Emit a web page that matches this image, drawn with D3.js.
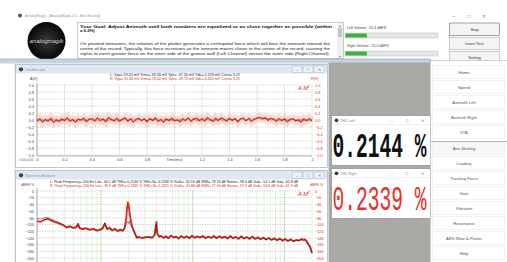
<!DOCTYPE html>
<html>
<head>
<meta charset="utf-8">
<script src="https://cdn.jsdelivr.net/npm/d3@7"></script>
<style>
body{margin:0;background:#fff;}
svg{display:block;font-family:"Liberation Sans",Arial,sans-serif;}
</style>
</head>
<body>
<script>
// ---- data ----
const titleText = "AnalogMagik  -  [AnalogMagik 2.0 - Anti-Skating]";
const goalLines = ["Your Goal:  Adjust Azimuth until both numbers are equalized or as close together as possible (within", "\u00b1 0.2%)"];
const infoLines = [
  "On pivoted tonearms, the rotation of the platter generates a centripetal force which will bias the tonearm toward the",
  "centre of the record.   Typically, this force increases as the tonearm moves closer to the center of the record, causing the",
  "stylus to exert greater force on the inner side of the groove wall (Left Channel) versus the outer side (Right Channel)."
];
const volumeLabels = ["Left Volume:", "Right Volume:"];
const volumeValues = ["-55.3 dBFS", "-55.0 dBFS"];
const volumeLevels = [0.23, 0.23];
const ctrlButtons = ["Stop", "Invert Test", "Setting"];
const navItems = ["Home","Speed","Azimuth Left","Azimuth Right","VTA","Anti-Skating","Loading","Tracking Force","Gain","Vibration","Resonance","AES Wow & Flutter","Help"];
const thdTitles = ["THD Left", "THD Right"];
const thdValues = ["0.2144", "0.2339"];

const scopeYTicks = [1,0.8,0.6,0.4,0.2,0,-0.2,-0.4,-0.6,-0.8,-1];
const scopeXTicks = [0,0.2,0.4,0.6,0.8,1,1.2,1.4,1.6,1.8,2];
const scopeStep = 0.02; // ms per sample
const scopeHeadL = "L: Vpp=  59.20 mV    Vrms=  18.34 mV    Vpk=  -47.16 mV        Vdc=  0.218 mV    Crest=  3.22";
const scopeHeadR = "R: Vpp=  61.84 mV    Vrms=  19.02 mV    Vpk=  -49.70 mV        Vdc=  0.305 mV    Crest=  3.25";
const scopeL = [
  0.01,-0.03,0.02,-0.05,0.03,-0.02,0.04,-0.04,0.01,-0.03,
  0.03,-0.01,0.04,-0.03,0.02,-0.05,0.03,-0.02,0.01,0.04,
  -0.02,0.03,-0.04,0.05,-0.01,0.02,-0.03,0.04,0.01,-0.04,
  0.03,-0.02,0.05,-0.03,0.01,0.04,-0.04,0.02,-0.01,0.03,
  -0.03,0.05,-0.02,0.01,0.04,-0.04,0.03,-0.01,0.02,-0.03,
  0.04,-0.02,0.03,-0.04,0.02,0.05,-0.01,0.03,-0.03,0.02,
  -0.04,0.04,0.01,-0.02,0.05,-0.03,0.03,0.01,-0.04,0.04,
  0.02,-0.02,0.05,-0.03,0.04,0.01,-0.02,0.06,0.02,0.04,
  0.07,0.03,0.06,0.02,0.05,-0.01,0.04,0.02,-0.03,0.03,
  -0.01,0.04,-0.03,0.02,0.01,-0.04,0.03,-0.02,0.01,-0.03,0.02
];
const scopeR = [
  -0.03,0.04,-0.06,0.02,-0.04,0.05,-0.07,0.01,-0.05,0.03,
  -0.02,0.06,-0.04,0.02,-0.06,0.03,-0.01,0.05,-0.05,0.02,
  0.04,-0.03,0.06,-0.02,0.03,-0.05,0.07,0.01,-0.03,0.05,
  -0.04,0.02,0.06,-0.03,0.04,-0.06,0.02,0.05,-0.02,0.03,
  -0.05,0.04,-0.01,0.06,-0.04,0.02,-0.06,0.03,-0.02,0.05,
  -0.03,0.01,-0.05,0.04,-0.02,0.06,-0.04,0.03,0.05,-0.02,
  0.04,-0.03,0.07,0.01,-0.04,0.05,-0.02,0.06,0.02,-0.03,
  0.05,-0.01,0.04,-0.05,0.03,0.06,-0.02,0.04,-0.04,0.02,
  0.05,0.08,0.03,0.07,-0.01,0.05,0.02,-0.04,0.04,-0.02,
  0.03,-0.05,0.02,0.04,-0.03,0.01,-0.06,0.03,-0.02,0.04,-0.03
];

const specYTicks = [0,-20,-40,-60,-80,-100,-120,-140,-160,-180,-200];
const specGrid = [20,30,40,50,60,70,80,90,100,200,300,400,500,600,700,800,900,1000,2000,3000,4000,5000,6000,7000,8000,9000,10000,20000];
const specDecades = [100,1000,10000];
const specHeadL = "L: Peak Frequency=   200 Hz    Lvl= -34.2 dB    THD= 0.2144 %    THD+N= 0.2268 %    Xtalk= -32.16 dB    SNR= 78.23 dB    Noise= -98.4 dB    2nd= -54.1 dB    3rd= -62.8 dB";
const specHeadR = "R: Peak Frequency=   200 Hz    Lvl= -33.9 dB    THD= 0.2339 %    THD+N= 0.2471 %    Xtalk= -31.88 dB    SNR= 77.90 dB    Noise= -97.9 dB    2nd= -53.6 dB    3rd= -61.9 dB";
const specFreq = [
  20,22,24,26,28,31,34,38,42,46,50,54,56,58,62,68,75,82,90,98,
  104,110,116,124,132,142,152,162,172,180,188,192,196,200,204,208,214,222,232,245,
  260,280,300,330,360,385,395,402,410,430,
  450,480,510,540,580,620,660,700,750,800,860,920,980,1050,1120,1200,1290,1380,1480,1590,
  1700,1820,1950,2090,2240,2400,2570,2750,2950,3160,3390,3630,3890,4170,4470,4790,5130,5500,5890,6310,
  6760,7240,7760,8320,8910,9550,10200,10900,11700,12600,13500,14400,15400,16100,16800,17500,18200,19000,19600,20000
];
const specL = [
  -82,-84,-80,-79,-83,-88,-93,-99,-107,-103,-109,-105,-96,-108,-112,-109,-114,-111,-116,-113,
  -109,-95,-112,-107,-116,-111,-118,-113,-118,-110,-100,-91,-93,-97,-89,-99,-106,-111,-122,-138,
  -136,-139,-136,-139,-137,-130,-110,-100,-128,-138,
  -136,-139,-137,-140,-135,-139,-137,-141,-136,-139,-137,-140,-136,-139,-137,-140,-136,-140,-137,-140,
  -137,-141,-137,-140,-138,-141,-137,-141,-138,-142,-138,-142,-139,-143,-139,-143,-140,-144,-141,-145,
  -142,-146,-143,-147,-144,-148,-145,-149,-146,-150,-147,-149,-145,-148,-146,-152,-160,-168,-178,-186
];
const specR = [
  -90,-92,-86,-83,-87,-92,-96,-101,-109,-106,-111,-108,-99,-110,-114,-112,-116,-114,-118,-116,
  -112,-97,-114,-111,-118,-114,-120,-116,-119,-112,-82,-52,-34,-42,-62,-78,-96,-112,-125,-140,
  -138,-141,-139,-137,-140,-131,-104,-92,-126,-136,
  -134,-140,-135,-141,-133,-139,-136,-142,-134,-140,-135,-141,-133,-140,-135,-139,-134,-141,-136,-140,
  -134,-141,-135,-140,-136,-142,-134,-141,-137,-143,-135,-142,-137,-143,-136,-143,-138,-144,-139,-145,
  -140,-146,-141,-147,-142,-148,-143,-149,-144,-150,-146,-148,-143,-146,-144,-150,-158,-166,-176,-185
];

// ---- drawing ----
const W = 507, H = 262;
const svg = d3.select('body').append('svg').attr('width', W).attr('height', H);
svg.append('rect').attr('width', W).attr('height', H).attr('fill', '#fff');

// app title bar
svg.append('circle').attr('cx', 20).attr('cy', 15.5).attr('r', 2).attr('fill', '#555');
svg.append('text').attr('x', 25).attr('y', 17).attr('font-size', 3.6).attr('fill', '#9a9a9a').text(titleText);
['\u2013', '\u25a1', '\u2715'].forEach(function (s, i) {
  svg.append('text').attr('x', 454 + i * 15).attr('y', 17.5).attr('font-size', 5)
    .attr('text-anchor', 'middle').attr('fill', '#888').text(s);
});

// logo
const defs = svg.append('defs');
const rg = defs.append('radialGradient').attr('id', 'logoGrad');
rg.append('stop').attr('offset', '0%').attr('stop-color', '#3a3a3a');
rg.append('stop').attr('offset', '70%').attr('stop-color', '#151515');
rg.append('stop').attr('offset', '100%').attr('stop-color', '#050505');
svg.append('circle').attr('cx', 46.5).attr('cy', 41).attr('r', 19).attr('fill', 'url(#logoGrad)');
svg.append('text').attr('x', 46.5).attr('y', 43).attr('text-anchor', 'middle').attr('font-size', 6)
  .attr('fill', '#d0d0d0').attr('font-style', 'italic').text('analogmagik');

// goal text box
svg.append('rect').attr('x', 77.5).attr('y', 22.5).attr('width', 266).attr('height', 36)
  .attr('fill', '#fff').attr('stroke', '#a9a9a9').attr('stroke-width', 0.6);
goalLines.forEach(function (t, i) {
  const tx = svg.append('text').attr('x', 80).attr('y', 27.5 + i * 4.8).attr('font-size', 4.3)
    .attr('font-weight', 'bold').attr('fill', '#111').text(t);
  if (i === 0) tx.attr('textLength', 252).attr('lengthAdjust', 'spacingAndGlyphs');
});
infoLines.forEach(function (t, i) {
  svg.append('text').attr('x', 80).attr('y', 45 + i * 5).attr('font-size', 4)
    .attr('fill', '#222').attr('textLength', 250).attr('lengthAdjust', 'spacingAndGlyphs').text(t);
});
// scrollbar
svg.append('rect').attr('x', 337).attr('y', 23).attr('width', 6).attr('height', 35).attr('fill', '#f0f0f0');
svg.append('rect').attr('x', 338).attr('y', 28).attr('width', 4).attr('height', 9).attr('fill', '#c6c6c6');
svg.append('text').attr('x', 340).attr('y', 27).attr('font-size', 3).attr('text-anchor', 'middle').attr('fill', '#777').text('\u25b2');
svg.append('text').attr('x', 340).attr('y', 57.5).attr('font-size', 3).attr('text-anchor', 'middle').attr('fill', '#777').text('\u25bc');

// volume meters
volumeLabels.forEach(function (lab, i) {
  const y0 = 28.5 + i * 18;
  svg.append('text').attr('x', 347).attr('y', y0).attr('font-size', 3.6).attr('fill', '#444')
    .text(lab + '   ' + volumeValues[i]);
  const bx = d3.scaleLinear().domain([0, 1]).range([345, 438]);
  svg.append('rect').attr('x', bx(0)).attr('y', y0 + 4.5).attr('width', bx(1) - bx(0)).attr('height', 5)
    .attr('fill', '#e6e6e6').attr('stroke', '#bdbdbd').attr('stroke-width', 0.5);
  svg.append('rect').attr('x', bx(0) + 0.5).attr('y', y0 + 5).attr('width', bx(volumeLevels[i]) - bx(0)).attr('height', 4)
    .attr('fill', '#3cb043');
});

// control buttons
ctrlButtons.forEach(function (b, i) {
  const y0 = 23 + i * 14.2;
  svg.append('rect').attr('x', 449.5).attr('y', y0).attr('width', 50).attr('height', 12.5)
    .attr('fill', '#f4f4f4').attr('stroke', i === 0 ? '#6a6a6a' : '#adadad').attr('stroke-width', 0.6);
  svg.append('text').attr('x', 474.5).attr('y', y0 + 7.8).attr('font-size', 4).attr('text-anchor', 'middle')
    .attr('fill', '#333').text(b);
});

// MDI strip and gray client area
svg.append('rect').attr('x', 0).attr('y', 59).attr('width', 431).attr('height', 4.5).attr('fill', '#c8d3df');
svg.append('line').attr('x1', 0).attr('x2', 431).attr('y1', 59).attr('y2', 59).attr('stroke', '#8e9aa8').attr('stroke-width', 0.6);
svg.append('rect').attr('x', 328.5).attr('y', 62.5).attr('width', 102).attr('height', 200).attr('fill', '#aaa9a5');
svg.append('line').attr('x1', 15).attr('x2', 15).attr('y1', 63).attr('y2', 262).attr('stroke', '#c9c9c9').attr('stroke-width', 0.6);

function mdiWindow(x, y, w, h, title) {
  const g = svg.append('g');
  g.append('rect').attr('x', x + 0.5).attr('y', y + 0.5).attr('width', w).attr('height', h)
    .attr('fill', '#fff').attr('stroke', '#9fb0c4').attr('stroke-width', 0.7);
  g.append('rect').attr('x', x + 1).attr('y', y + 1).attr('width', w - 1).attr('height', 8.5).attr('fill', '#e1e8f1');
  g.append('circle').attr('cx', x + 6).attr('cy', y + 5.3).attr('r', 2.1).attr('fill', '#3a3f48');
  g.append('text').attr('x', x + 10).attr('y', y + 6.6).attr('font-size', 3.6).attr('fill', '#8494a8').text(title);
  ['\u2013', '\u25a1', '\u2715'].forEach(function (s, i) {
    const bx = x + w - 35 + i * 11;
    g.append('rect').attr('x', bx).attr('y', y + 2).attr('width', 10).attr('height', 6.5)
      .attr('fill', '#eef2f7').attr('stroke', '#a8b5c5').attr('stroke-width', 0.5);
    g.append('text').attr('x', bx + 5).attr('y', y + 6.8).attr('font-size', 4).attr('text-anchor', 'middle')
      .attr('fill', '#6a7688').text(s);
  });
  return g;
}

function styleAxis(g, color) {
  g.select('.domain').remove();
  g.selectAll('text').attr('font-size', 3.8).attr('fill', color).attr('font-family', '"Liberation Sans",Arial,sans-serif');
}

// ---- oscilloscope ----
mdiWindow(15, 64, 312, 103, 'Oscilloscope');
const sx = d3.scaleLinear().domain([0, 2]).range([37, 312]);
const sy = d3.scaleLinear().domain([-1, 1]).range([155, 85]);

svg.append('g').selectAll('line').data(scopeYTicks).enter().append('line')
  .attr('x1', sx(0)).attr('x2', sx(2)).attr('y1', d => sy(d)).attr('y2', d => sy(d))
  .attr('stroke', '#b5b5b5').attr('stroke-width', 0.5).attr('stroke-dasharray', '1.5,1');
svg.append('g').selectAll('line').data(scopeXTicks).enter().append('line')
  .attr('x1', d => sx(d)).attr('x2', d => sx(d)).attr('y1', sy(1)).attr('y2', sy(-1))
  .attr('stroke', '#8fcf7f').attr('stroke-width', 0.55).attr('stroke-dasharray', '1.2,0.8');
svg.append('line').attr('x1', sx(0)).attr('x2', sx(0)).attr('y1', sy(1) - 2).attr('y2', sy(-1) + 1)
  .attr('stroke', '#666').attr('stroke-width', 0.5);
svg.append('line').attr('x1', sx(0)).attr('x2', sx(2)).attr('y1', sy(-1) + 1).attr('y2', sy(-1) + 1)
  .attr('stroke', '#666').attr('stroke-width', 0.5);

styleAxis(svg.append('g').attr('transform', 'translate(' + sx(0) + ',0)')
  .call(d3.axisLeft(sy).tickValues(scopeYTicks).tickSize(0).tickPadding(3)), '#444');
styleAxis(svg.append('g').attr('transform', 'translate(' + sx(2) + ',0)')
  .call(d3.axisRight(sy).tickValues(scopeYTicks).tickSize(0).tickPadding(3)), '#d42b20');
styleAxis(svg.append('g').attr('transform', 'translate(0,' + (sy(-1) + 1) + ')')
  .call(d3.axisBottom(sx).tickValues(scopeXTicks).tickSize(0).tickPadding(2.5)
    .tickFormat(d => d === 1 ? '' : d3.format('~g')(d))), '#444');
svg.append('text').attr('x', sx(1)).attr('y', 160.5).attr('font-size', 3.8).attr('text-anchor', 'middle').attr('fill', '#444').text('Time(ms)');
svg.append('text').attr('x', 19).attr('y', 160.5).attr('font-size', 3)
  .attr('textLength', 14).attr('lengthAdjust', 'spacingAndGlyphs').attr('fill', '#555').text('x:0.00 y:0.00');
svg.append('text').attr('x', 30).attr('y', 80).attr('font-size', 3.8).attr('fill', '#444').text('A(V)');
svg.append('text').attr('x', 311).attr('y', 80).attr('font-size', 3.8).attr('fill', '#d42b20').text('R(V)');
svg.append('text').attr('x', 110).attr('y', 76).attr('font-size', 3.6).attr('fill', '#222')
  .attr('textLength', 130).attr('lengthAdjust', 'spacingAndGlyphs').text(scopeHeadL);
svg.append('text').attr('x', 110).attr('y', 79.8).attr('font-size', 3.6).attr('fill', '#d42b20')
  .attr('textLength', 130).attr('lengthAdjust', 'spacingAndGlyphs').text(scopeHeadR);
svg.append('text').attr('x', 298).attr('y', 90).attr('font-size', 5.5).attr('font-style', 'italic').attr('fill', '#d42b20')
  .text('A.M').append('tspan').attr('dy', -2.5).attr('font-size', 3).text('2');

const scopeLine = d3.line().x((d, i) => sx(i * scopeStep)).y(d => sy(d));
svg.append('path').datum(scopeR).attr('d', scopeLine).attr('fill', 'none')
  .attr('stroke', '#f08a80').attr('stroke-opacity', 0.3).attr('stroke-width', 8);
svg.append('path').datum(scopeR).attr('d', scopeLine).attr('fill', 'none')
  .attr('stroke', '#e0301e').attr('stroke-width', 1.3);
svg.append('path').datum(scopeL).attr('d', scopeLine).attr('fill', 'none')
  .attr('stroke', '#3a1a14').attr('stroke-opacity', 0.5).attr('stroke-width', 0.6);

// ---- spectrum analyzer ----
mdiWindow(15, 170, 312, 100, 'Spectrum Analyzer');
const fx = d3.scaleLog().domain([20, 20000]).range([37, 312]);
const fy = d3.scaleLinear().domain([-200, 0]).range([258, 191]);

svg.append('g').selectAll('line').data(specYTicks).enter().append('line')
  .attr('x1', fx(20)).attr('x2', fx(20000)).attr('y1', d => fy(d)).attr('y2', d => fy(d))
  .attr('stroke', '#b0b0b0').attr('stroke-width', 0.5).attr('stroke-dasharray', '1.5,1');
svg.append('g').selectAll('line').data(specGrid).enter().append('line')
  .attr('x1', d => fx(d)).attr('x2', d => fx(d)).attr('y1', fy(0) - 1).attr('y2', 262)
  .attr('stroke', d => specDecades.indexOf(d) >= 0 ? '#86c276' : '#b3e0a7')
  .attr('stroke-width', d => specDecades.indexOf(d) >= 0 ? 0.7 : 0.5)
  .attr('stroke-dasharray', '1.5,0.7');
svg.append('line').attr('x1', fx(20)).attr('x2', fx(20)).attr('y1', fy(0) - 3).attr('y2', 262)
  .attr('stroke', '#666').attr('stroke-width', 0.5);

styleAxis(svg.append('g').attr('transform', 'translate(' + fx(20) + ',0)')
  .call(d3.axisLeft(fy).tickValues(specYTicks).tickSize(0).tickPadding(3)), '#444');
styleAxis(svg.append('g').attr('transform', 'translate(' + fx(20000) + ',0)')
  .call(d3.axisRight(fy).tickValues(specYTicks).tickSize(0).tickPadding(3)), '#d42b20');
svg.append('text').attr('x', 21).attr('y', 186).attr('font-size', 3.6).attr('fill', '#444').text('dBFS %');
svg.append('text').attr('x', 310).attr('y', 186).attr('font-size', 3.6).attr('fill', '#d42b20').text('dBFS %');
svg.append('text').attr('x', 50).attr('y', 183).attr('font-size', 3.4).attr('fill', '#222')
  .attr('textLength', 248).attr('lengthAdjust', 'spacingAndGlyphs').text(specHeadL);
svg.append('text').attr('x', 50).attr('y', 187).attr('font-size', 3.4).attr('fill', '#d42b20')
  .attr('textLength', 248).attr('lengthAdjust', 'spacingAndGlyphs').text(specHeadR);
svg.append('text').attr('x', 298).attr('y', 196).attr('font-size', 5.5).attr('font-style', 'italic').attr('fill', '#d42b20')
  .text('A.M').append('tspan').attr('dy', -2.5).attr('font-size', 3).text('2');

const specLine = d3.line().x((d, i) => fx(specFreq[i])).y(d => fy(d));
svg.append('path').datum(specR).attr('d', specLine).attr('fill', 'none')
  .attr('stroke', '#e02a1c').attr('stroke-width', 1.8).attr('stroke-linejoin', 'round');
svg.append('path').datum(specL).attr('d', specLine).attr('fill', 'none')
  .attr('stroke', '#2a1410').attr('stroke-opacity', 0.7).attr('stroke-width', 0.7);

// ---- THD readouts ----
thdTitles.forEach(function (t, i) {
  const y0 = 115.5 + i * 53;
  const g = svg.append('g');
  g.append('rect').attr('x', 331.5).attr('y', y0).attr('width', 99).attr('height', 50)
    .attr('fill', '#fff').attr('stroke', '#8d8d8d').attr('stroke-width', 0.7);
  g.append('line').attr('x1', 332).attr('x2', 430).attr('y1', y0 + 9).attr('y2', y0 + 9).attr('stroke', '#e3e3e3').attr('stroke-width', 0.5);
  g.append('circle').attr('cx', 336.5).attr('cy', y0 + 4.8).attr('r', 1.9).attr('fill', '#3a3f48');
  g.append('text').attr('x', 340).attr('y', y0 + 6).attr('font-size', 3.6).attr('fill', '#888').text(t);
  ['\u2013', '\u25a1', '\u2715'].forEach(function (s, k) {
    g.append('text').attr('x', 392 + k * 15).attr('y', y0 + 6.3).attr('font-size', 4).attr('text-anchor', 'middle')
      .attr('fill', '#777').text(s);
  });
  // narrow big readout: monospace glyphs squeezed horizontally
  g.append('text').attr('transform', 'translate(332.5,' + (y0 + 41.5) + ') scale(0.56,1)')
    .attr('font-size', 35)
    .attr('font-family', '"Liberation Mono","DejaVu Sans Mono",monospace')
    .attr('font-weight', i === 0 ? 'bold' : 'normal')
    .attr('fill', i === 0 ? '#111' : '#e8302a')
    .text(thdValues[i] + ' %');
});

// ---- navigation panel ----
svg.append('rect').attr('x', 430.5).attr('y', 60.5).attr('width', 77).attr('height', 202)
  .attr('fill', '#fff').attr('stroke', '#b8b8b8').attr('stroke-width', 0.6);
navItems.forEach(function (n, i) {
  const cy = 72 + i * 15 + (i >= 5 ? 1 : 0);
  svg.append('rect').attr('x', 432.5).attr('y', cy - 6.5).attr('width', 72).attr('height', 13)
    .attr('fill', i === 5 ? '#f7f7f7' : '#fff').attr('stroke', '#e6e6e6').attr('stroke-width', 0.5);
  svg.append('text').attr('x', 464).attr('y', cy + 1.5).attr('font-size', 4.2).attr('text-anchor', 'middle')
    .attr('fill', '#555').text(n);
});
svg.append('line').attr('x1', 431).attr('x2', 507).attr('y1', 141.5).attr('y2', 141.5).attr('stroke', '#9a9a9a').attr('stroke-width', 0.7);
</script>
</body>
</html>
